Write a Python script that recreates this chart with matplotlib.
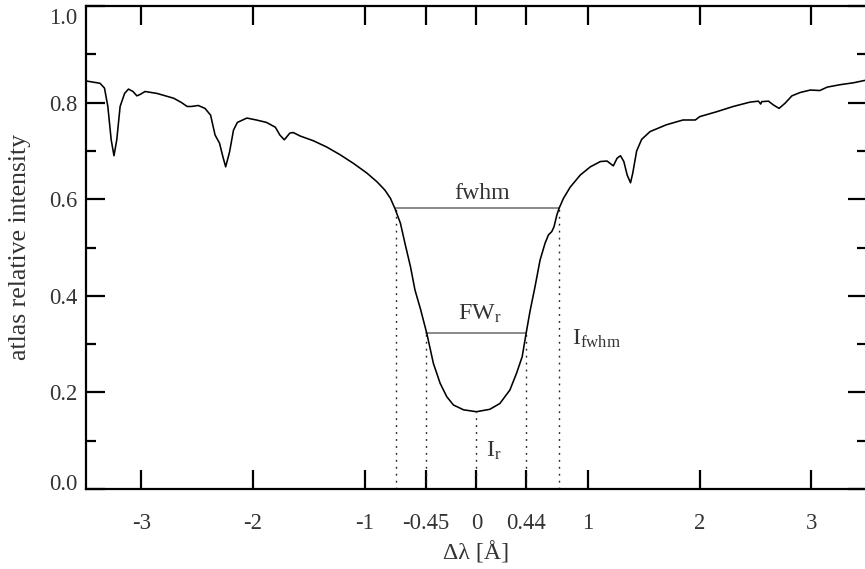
import matplotlib
matplotlib.use("Agg")
import matplotlib.pyplot as plt
import matplotlib.transforms as mtransforms

plt.rcParams['font.family'] = ['Liberation Serif', 'DejaVu Serif']
plt.rcParams['mathtext.fontset'] = 'custom'
plt.rcParams['mathtext.rm'] = 'Liberation Serif'
plt.rcParams['mathtext.it'] = 'Liberation Serif:italic'

# ---- data ----
wavelength = [-3.50, -3.37, -3.33, -3.30, -3.27, -3.245, -3.22, -3.19, -3.15, -3.115,
              -3.075, -3.04, -3.01, -2.967, -2.86, -2.71, -2.64, -2.59, -2.55, -2.49,
              -2.43, -2.38, -2.34, -2.30, -2.27, -2.245, -2.21, -2.175, -2.14, -2.055,
              -1.97, -1.88, -1.80, -1.76, -1.72, -1.67, -1.64, -1.58, -1.46, -1.34,
              -1.22, -1.10, -0.98, -0.89, -0.82, -0.77, -0.73, -0.68, -0.64, -0.59,
              -0.55, -0.50, -0.444, -0.385, -0.325, -0.265, -0.206, -0.116, 0.0, 0.12,
              0.21, 0.30, 0.36, 0.41, 0.445, 0.48, 0.525, 0.57, 0.615, 0.645,
              0.675, 0.695, 0.72, 0.74, 0.78, 0.84, 0.93, 1.02, 1.11, 1.17,
              1.226, 1.26, 1.29, 1.32, 1.35, 1.38, 1.40, 1.435, 1.48, 1.555,
              1.70, 1.85, 1.96, 2.00, 2.15, 2.30, 2.45, 2.525, 2.545, 2.555,
              2.615, 2.66, 2.71, 2.765, 2.825, 2.90, 2.99, 3.075, 3.14, 3.255,
              3.375, 3.50]
intensity = [0.845, 0.840, 0.830, 0.792, 0.723, 0.690, 0.723, 0.792, 0.819, 0.828,
             0.823, 0.814, 0.817, 0.823, 0.819, 0.809, 0.800, 0.792, 0.792, 0.794,
             0.788, 0.774, 0.733, 0.716, 0.688, 0.667, 0.698, 0.743, 0.759, 0.768,
             0.764, 0.759, 0.749, 0.733, 0.723, 0.737, 0.738, 0.731, 0.721, 0.708,
             0.692, 0.674, 0.654, 0.636, 0.619, 0.602, 0.581, 0.550, 0.509, 0.460,
             0.412, 0.372, 0.322, 0.260, 0.219, 0.191, 0.174, 0.164, 0.160, 0.165,
             0.177, 0.205, 0.240, 0.274, 0.322, 0.368, 0.419, 0.474, 0.509, 0.526,
             0.533, 0.543, 0.567, 0.581, 0.602, 0.625, 0.650, 0.667, 0.678, 0.679,
             0.669, 0.685, 0.690, 0.678, 0.650, 0.634, 0.654, 0.700, 0.724, 0.740,
             0.754, 0.764, 0.764, 0.771, 0.781, 0.792, 0.801, 0.803, 0.797, 0.802,
             0.803, 0.795, 0.788, 0.799, 0.814, 0.821, 0.826, 0.825, 0.832, 0.837,
             0.841, 0.847]

fwhm_level = 0.581
fwhm_edges = [-0.72, 0.74]
fwr_level = 0.322
fwr_edges = [-0.45, 0.44]
core_pos = 0.0
core_level = 0.160

xtick_vals = [-3, -2, -1, -0.45, 0, 0.44, 1, 2, 3]
xtick_labels = ['-3', '-2', '-1', '-0.45', '0', '0.44', '1', '2', '3']
ytick_vals = [0.0, 0.2, 0.4, 0.6, 0.8, 1.0]
ytick_labels = ['0.0', '0.2', '0.4', '0.6', '0.8', '1.0']

# ---- figure ----
W, H = 865, 569
fig = plt.figure(figsize=(W / 100, H / 100), dpi=100)
left, right, bottom, top = 85.5, 867.3, 489, 6
ax = fig.add_axes([left / W, (H - bottom) / H, (right - left) / W, (bottom - top) / H])

txtcol = '#333333'
fs_tick = 16.3
fs = 17.2

ax.plot(wavelength, intensity, color='black', lw=1.15, zorder=3)

# horizontal width markers
ax.plot(fwhm_edges, [fwhm_level, fwhm_level], color='#6a6a6a', lw=1.1)
ax.plot(fwr_edges, [fwr_level, fwr_level], color='#6a6a6a', lw=1.1)

dot = (0, (1.3, 3.7))
for xe in fwhm_edges:
    ax.plot([xe, xe], [0, fwhm_level], color='#222222', lw=1.0, ls=dot)
for xe in fwr_edges:
    ax.plot([xe, xe], [0, fwr_level], color='#222222', lw=1.0, ls=dot)
ax.plot([core_pos, core_pos], [0, core_level], color='#222222', lw=1.0, ls=dot)

# annotations
ax.text(0.05, 0.611, 'fwhm', ha='center', va='center', fontsize=fs, color=txtcol)
ax.text(0.03, 0.362, r'FW$_{\rm r}$', ha='center', va='center', fontsize=fs, color=txtcol)
ax.text(0.855, 0.310, r'I$_{\rm fwhm}$', ha='left', va='center', fontsize=fs, color=txtcol)
ax.text(0.085, 0.078, r'I$_{\rm r}$', ha='left', va='center', fontsize=fs, color=txtcol)

ax.set_xlim(-3.5, 3.5)
ax.set_ylim(0, 1.0)

ax.set_xticks(xtick_vals)
ax.set_xticklabels(xtick_labels)
ax.set_yticks(ytick_vals)
ax.set_yticklabels(ytick_labels)
ax.set_yticks([0.1, 0.3, 0.5, 0.7, 0.9], minor=True)

ax.tick_params(axis='both', which='major', direction='in', top=True, right=True,
               length=14, width=1.6, labelsize=fs_tick, labelcolor=txtcol)
ax.tick_params(axis='x', which='major', pad=17)
ax.tick_params(axis='y', which='major', pad=6)
ax.tick_params(axis='y', which='minor', direction='in', right=True, length=7, width=1.6)

for s in ax.spines.values():
    s.set_linewidth(1.6)

# shift extreme y labels inward as in the reference
labs = ax.get_yticklabels()
labs[0].set_transform(labs[0].get_transform() + mtransforms.ScaledTranslation(0, 7 / 100, fig.dpi_scale_trans))
labs[-1].set_transform(labs[-1].get_transform() + mtransforms.ScaledTranslation(0, -10 / 100, fig.dpi_scale_trans))

ax.set_xlabel('Δλ [Å]', fontsize=fs, color=txtcol, labelpad=6)
ax.set_ylabel('atlas relative intensity', fontsize=18.5, color=txtcol, labelpad=13)

fig.savefig('out.png', dpi=100)
